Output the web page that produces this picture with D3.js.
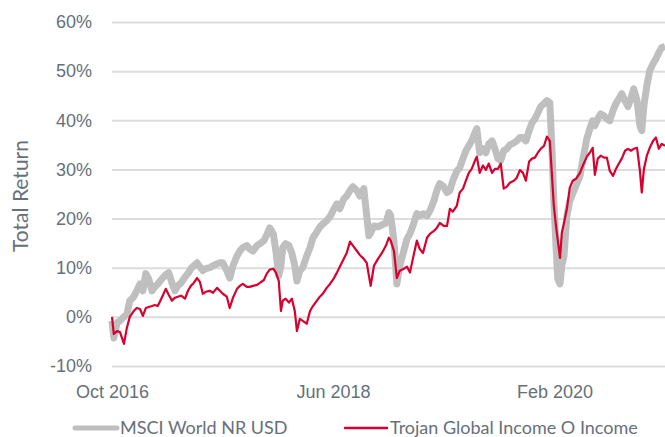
<!DOCTYPE html>
<html>
<head>
<meta charset="utf-8">
<script src="https://cdn.jsdelivr.net/npm/d3@7"></script>
<style>
    body { margin: 0; background: #fff; }
    svg { display: block; font-family: "Lato", "Open Sans", sans-serif; }
</style>
</head>
<body>
<div id="chart"></div>
<script>
// total return: MSCI World vs Trojan Global Income
var dates = [
    "2016-10-15", "2016-10-20", "2016-10-29", "2016-11-06", "2016-11-17", "2016-11-25", "2016-12-03", "2016-12-14",
    "2016-12-22", "2016-12-31", "2017-01-08", "2017-01-16", "2017-01-24", "2017-02-02", "2017-02-10", "2017-02-18",
    "2017-03-01", "2017-03-12", "2017-03-20", "2017-03-29", "2017-04-06", "2017-04-14", "2017-04-23", "2017-05-04",
    "2017-05-12", "2017-05-20", "2017-05-28", "2017-06-06", "2017-06-14", "2017-06-22", "2017-06-30", "2017-07-11",
    "2017-07-20", "2017-07-31", "2017-08-08", "2017-08-16", "2017-08-27", "2017-09-04", "2017-09-13", "2017-09-24",
    "2017-10-02", "2017-10-10", "2017-10-21", "2017-10-29", "2017-11-07", "2017-11-18", "2017-11-26", "2017-12-07",
    "2017-12-15", "2017-12-23", "2018-01-02", "2018-01-09", "2018-01-17", "2018-01-23", "2018-01-28", "2018-02-05",
    "2018-02-14", "2018-02-22", "2018-03-02", "2018-03-08", "2018-03-16", "2018-03-24", "2018-04-04", "2018-04-13",
    "2018-04-21", "2018-05-02", "2018-05-10", "2018-05-18", "2018-05-29", "2018-06-07", "2018-06-18", "2018-06-26",
    "2018-07-04", "2018-07-15", "2018-07-23", "2018-08-01", "2018-08-09", "2018-08-20", "2018-08-28", "2018-09-08",
    "2018-09-16", "2018-09-22", "2018-09-27", "2018-10-06", "2018-10-17", "2018-10-28", "2018-11-08", "2018-11-16",
    "2018-11-21", "2018-11-30", "2018-12-08", "2018-12-16", "2018-12-27", "2019-01-05", "2019-01-13", "2019-01-21",
    "2019-02-01", "2019-02-09", "2019-02-18", "2019-03-01", "2019-03-09", "2019-03-20", "2019-03-28", "2019-04-05",
    "2019-04-16", "2019-04-25", "2019-05-03", "2019-05-11", "2019-05-22", "2019-05-30", "2019-06-08", "2019-06-16",
    "2019-06-24", "2019-07-02", "2019-07-11", "2019-07-16", "2019-07-24", "2019-08-02", "2019-08-10", "2019-08-18",
    "2019-08-27", "2019-09-04", "2019-09-12", "2019-09-20", "2019-09-28", "2019-10-07", "2019-10-15", "2019-10-26",
    "2019-11-03", "2019-11-12", "2019-11-20", "2019-11-28", "2019-12-07", "2019-12-15", "2019-12-23", "2019-12-31",
    "2020-01-08", "2020-01-17", "2020-01-25", "2020-02-02", "2020-02-08", "2020-02-13", "2020-02-19", "2020-02-24",
    "2020-03-01", "2020-03-06", "2020-03-12", "2020-03-20", "2020-03-28", "2020-04-05", "2020-04-14", "2020-04-25",
    "2020-05-03", "2020-05-14", "2020-05-22", "2020-05-30", "2020-06-05", "2020-06-13", "2020-06-21", "2020-06-30",
    "2020-07-08", "2020-07-16", "2020-07-25", "2020-08-02", "2020-08-10", "2020-08-18", "2020-08-27", "2020-09-04",
    "2020-09-12", "2020-09-20", "2020-09-29", "2020-10-07", "2020-10-12", "2020-10-18", "2020-10-26", "2020-11-03",
    "2020-11-12", "2020-11-20", "2020-11-28", "2020-12-06", "2020-12-15"
];

var msci = [
    -0.8, -4.3, -1.2, -0.8, 0.0, 0.6, 3.3, 4.1, 5.3, 6.7, 5.3, 8.8, 7.7, 5.3, 6.1, 6.7,
    7.7, 8.6, 9.0, 6.9, 5.3, 6.3, 6.9, 8.1, 8.8, 9.8, 10.4, 11.0, 10.2, 9.4, 9.8, 10.0,
    10.4, 10.8, 11.0, 11.0, 9.4, 7.9, 10.4, 12.4, 13.4, 14.1, 14.5, 13.8, 13.4, 14.5, 14.9, 15.5,
    16.7, 18.1, 16.9, 13.4, 8.4, 10.4, 14.1, 14.9, 14.5, 13.0, 10.4, 7.3, 9.4, 10.0, 12.4, 14.1,
    16.1, 17.3, 18.3, 18.9, 19.6, 20.4, 22.0, 23.0, 22.0, 24.0, 24.6, 25.7, 26.5, 25.7, 24.6, 26.1,
    20.6, 16.5, 17.1, 18.5, 18.3, 18.7, 19.1, 21.2, 20.6, 15.5, 6.7, 10.4, 13.4, 15.9, 16.9, 18.5,
    21.0, 20.6, 21.0, 20.6, 21.6, 23.6, 25.7, 27.1, 26.5, 25.3, 25.7, 27.7, 29.7, 30.3, 32.2, 33.8,
    34.8, 35.8, 37.5, 38.3, 33.4, 34.2, 33.4, 35.2, 35.8, 34.2, 32.2, 31.8, 33.8, 34.2, 35.0, 35.4,
    35.8, 36.5, 36.5, 35.8, 37.9, 39.5, 40.3, 41.5, 42.8, 43.4, 44.0, 43.6, 33.8, 23.6, 14.5, 7.7,
    6.7, 10.4, 12.4, 20.6, 23.6, 25.1, 26.7, 28.7, 32.0, 36.3, 38.3, 39.9, 38.9, 40.3, 41.3, 40.9,
    40.3, 39.9, 42.0, 43.4, 44.4, 45.4, 44.0, 42.8, 44.4, 46.4, 44.0, 38.9, 37.9, 43.0, 47.0, 50.1,
    51.5, 52.5, 53.8, 54.8, 55.0
];

var trojan = [
    0.0, -3.5, -2.9, -3.1, -5.5, -2.2, 0.0, 1.2, 1.8, 1.6, 0.2, 1.8, 2.0, 2.2, 2.4, 2.2,
    3.9, 5.7, 4.5, 3.3, 3.9, 4.1, 4.3, 3.7, 5.3, 6.3, 6.9, 7.9, 7.1, 4.7, 5.1, 5.3,
    4.9, 5.9, 5.3, 4.7, 4.1, 1.8, 3.9, 5.7, 6.3, 6.7, 6.1, 6.1, 6.3, 6.5, 6.9, 7.5,
    8.8, 9.6, 9.8, 9.0, 7.3, 1.2, 3.3, 3.7, 2.9, 3.7, 1.2, -2.9, -0.4, -0.8, -1.4, 1.2,
    2.2, 3.3, 4.1, 4.7, 5.9, 6.7, 7.9, 9.0, 10.2, 11.8, 13.0, 15.3, 14.5, 13.4, 12.6, 11.8,
    11.0, 8.4, 6.3, 10.4, 11.8, 13.0, 14.5, 16.1, 15.5, 13.4, 7.9, 9.4, 9.8, 10.2, 9.0, 11.8,
    15.5, 13.8, 13.0, 16.1, 16.9, 17.5, 18.1, 19.1, 18.5, 18.5, 22.0, 21.4, 22.6, 25.3, 26.1, 27.7,
    29.3, 30.1, 31.8, 32.6, 29.3, 30.8, 29.9, 31.2, 29.3, 30.1, 30.1, 31.2, 26.1, 26.5, 27.3, 27.7,
    28.3, 29.9, 29.3, 27.7, 31.6, 32.2, 32.4, 33.4, 34.2, 34.8, 36.7, 35.8, 28.7, 22.6, 18.5, 15.5,
    12.0, 17.1, 19.1, 22.0, 26.3, 27.7, 28.1, 29.3, 30.8, 32.6, 33.4, 34.4, 28.9, 32.2, 32.8, 32.4,
    32.4, 29.7, 28.7, 30.1, 31.2, 32.2, 33.8, 34.2, 33.8, 34.2, 34.4, 29.7, 25.3, 30.1, 32.8, 34.4,
    35.8, 36.5, 34.2, 35.2, 34.8
];

var y_ticks = [-10, 0, 10, 20, 30, 40, 50, 60];
var x_ticks = ["2016-10-15", "2018-06-15", "2020-02-15"];
var series_names = ["MSCI World NR USD", "Trojan Global Income O Income"];

var chart_margin = { top: 22, right: 0, bottom: 71, left: 112 },
    chart_width = 665 - chart_margin.left - chart_margin.right,
    chart_height = 437 - chart_margin.top - chart_margin.bottom;

var parse_date = d3.timeParse("%Y-%m-%d");

var chart_svg = d3.select("#chart")
    .append("svg")
    .attr("width", 665)
    .attr("height", 437);

var chart_g = chart_svg.append("g")
    .attr("transform", "translate(" + chart_margin.left + "," + chart_margin.top + ")");

var chart_x = d3.scaleTime()
    .domain([parse_date("2016-10-15"), parse_date("2020-12-15")])
    .range([0, chart_width]);

var chart_y = d3.scaleLinear()
    .domain([-10, 60])
    .range([chart_height, 0]);

// grid lines with labels
var y_axis = chart_g.append("g")
    .call(d3.axisLeft(chart_y)
        .tickValues(y_ticks)
        .tickSize(-chart_width)
        .tickPadding(20)
        .tickFormat(function (d) { return d + "%"; }));
y_axis.select(".domain").remove();
y_axis.selectAll("line")
    .attr("stroke", "#dcdcdc")
    .attr("stroke-width", 2);
y_axis.selectAll("text")
    .attr("fill", "#66707a")
    .attr("font-size", "18px");

var x_axis = chart_g.append("g")
    .attr("transform", "translate(0," + chart_height + ")")
    .call(d3.axisBottom(chart_x)
        .tickValues(x_ticks.map(parse_date))
        .tickSize(0)
        .tickPadding(19)
        .tickFormat(d3.timeFormat("%b %Y")));
x_axis.select(".domain").remove();
x_axis.selectAll("text")
    .attr("fill", "#66707a")
    .attr("font-size", "18px");

chart_svg.append("text")
    .attr("transform", "translate(28,196) rotate(-90)")
    .attr("fill", "#66707a")
    .attr("font-size", "21px")
    .style("text-anchor", "middle")
    .text("Total Return");

var line_msci = d3.line()
    .x(function (d, i) { return chart_x(parse_date(dates[i])); })
    .y(function (d) { return chart_y(d); });

chart_g.append("path")
    .datum(msci)
    .attr("fill", "none")
    .attr("stroke", "#bfbfbf")
    .attr("stroke-width", 7)
    .attr("stroke-linejoin", "round")
    .attr("d", line_msci);

chart_g.append("path")
    .datum(trojan)
    .attr("fill", "none")
    .attr("stroke", "#d7002f")
    .attr("stroke-width", 2.2)
    .attr("stroke-linejoin", "round")
    .attr("d", line_msci);

// legend
var legend_info = [
    { name: series_names[0], color: "#bfbfbf", width: 5, x: 75 },
    { name: series_names[1], color: "#d7002f", width: 2.5, x: 345 }
];
var legend = chart_svg.append("g")
    .selectAll("g")
    .data(legend_info)
    .enter().append("g")
    .attr("transform", function (d) { return "translate(" + d.x + ",428)"; });
legend.append("line")
    .attr("x1", 0)
    .attr("x2", 42)
    .attr("stroke", function (d) { return d.color; })
    .attr("stroke-width", function (d) { return d.width; })
    .attr("stroke-linecap", "round");
legend.append("text")
    .attr("x", 45)
    .attr("dy", "0.35em")
    .attr("fill", "#66707a")
    .attr("font-size", "18px")
    .text(function (d) { return d.name; });
</script>
</body>
</html>
